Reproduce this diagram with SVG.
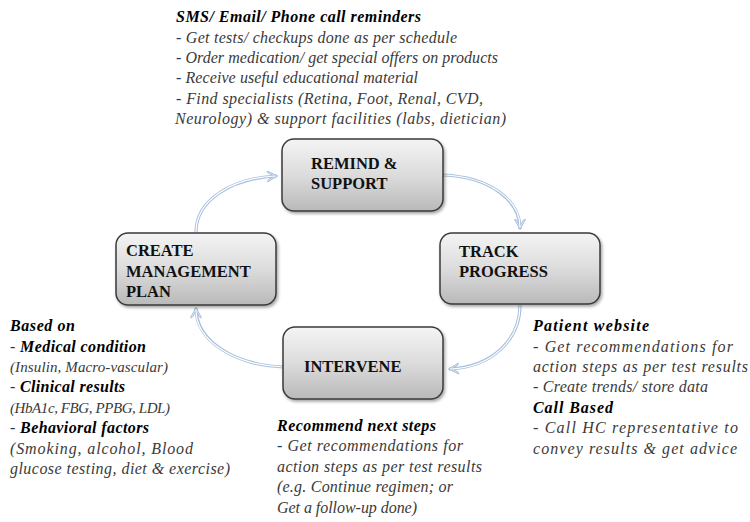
<svg xmlns="http://www.w3.org/2000/svg" width="750" height="522" viewBox="0 0 750 522">
<defs>
<linearGradient id="boxGrad" x1="0" y1="0" x2="0" y2="1">
<stop offset="0" stop-color="#f4f4f4"/>
<stop offset="0.5" stop-color="#dcdcdc"/>
<stop offset="1" stop-color="#b9b9b9"/>
</linearGradient>
<filter id="shadow" x="-10%" y="-10%" width="125%" height="130%">
<feDropShadow dx="1.5" dy="2" stdDeviation="1.5" flood-color="#000" flood-opacity="0.35"/>
</filter>
<marker id="arrow" viewBox="0 0 12 12" refX="10" refY="6" markerWidth="13" markerHeight="13" markerUnits="userSpaceOnUse" orient="auto">
<path d="M1,1 L10.5,6 L1,11 L2,9 L8,6 L2,3 Z" fill="#ffffff" stroke="#9fb9d8" stroke-width="0.9" stroke-linejoin="round"/>
</marker>
<style>
.box{fill:url(#boxGrad);stroke:#3a3a3a;stroke-width:1.5;filter:url(#shadow)}
.lbl{font-weight:bold;font-size:16.5px;fill:#111}
.t{font-style:italic;font-size:16px;fill:#3a3a3a}
.s{font-size:15px}
.h{font-weight:bold;fill:#000}
.d{fill:#1f3a64;font-style:normal}
.conOut{fill:none;stroke:#a9c1de;stroke-width:3.2}
.conIn{fill:none;stroke:#ffffff;stroke-width:1.2}
</style>
</defs>
<rect width="750" height="522" fill="#ffffff"/>

<g id="connectors">
<path class="conOut" d="M196,232 C196,200 232,178 277,176" marker-end="url(#arrow)"/>
<path class="conIn" d="M196,232 C196,200 232,178 275,176"/>
<path class="conOut" d="M443,175 C490,177 520,200 520,229" marker-end="url(#arrow)"/>
<path class="conIn" d="M443,175 C490,177 520,200 520,227"/>
<path class="conOut" d="M520,305 C520,340 492,367 449,369" marker-end="url(#arrow)"/>
<path class="conIn" d="M520,305 C520,340 492,367 451,369"/>
<path class="conOut" d="M283,367 C236,365 196,342 196,308" marker-end="url(#arrow)"/>
<path class="conIn" d="M283,367 C236,365 196,342 196,310"/>
</g>

<g font-family="Liberation Serif, DejaVu Serif, serif">
<g id="node-remind">
<rect class="box" x="282" y="139" width="161" height="72" rx="12"/>
<text class="lbl" x="311" y="169">REMIND &amp;</text>
<text class="lbl" x="311" y="189">SUPPORT</text>
</g>

<g id="node-create">
<rect class="box" x="116" y="233" width="160" height="72" rx="12"/>
<text class="lbl" x="126" y="256">CREATE</text>
<text class="lbl" x="126" y="277">MANAGEMENT</text>
<text class="lbl" x="126" y="297">PLAN</text>
</g>

<g id="node-track">
<rect class="box" x="440" y="233" width="160" height="71" rx="12"/>
<text class="lbl" x="459" y="257">TRACK</text>
<text class="lbl" x="459" y="277">PROGRESS</text>
</g>

<g id="node-intervene">
<rect class="box" x="283" y="327" width="160" height="72" rx="12"/>
<text class="lbl" x="304" y="372">INTERVENE</text>
</g>

<g id="text-top">
<text class="t h" x="176" y="22" textLength="245">SMS/ Email/ Phone call reminders</text>
<text class="t" x="176" y="43" textLength="281"><tspan class="d">-</tspan> Get tests/ checkups done as per schedule</text>
<text class="t" x="176" y="63" textLength="322"><tspan class="d">-</tspan> Order medication/ get special offers on products</text>
<text class="t" x="176" y="83" textLength="242"><tspan class="d">-</tspan> Receive useful educational material</text>
<text class="t" x="176" y="104" textLength="307"><tspan class="d">-</tspan> Find specialists (Retina, Foot, Renal, CVD,</text>
<text class="t" x="175" y="124" textLength="331">Neurology) &amp; support facilities (labs, dietician)</text>
</g>

<g id="text-left">
<text class="t h" x="10" y="331" textLength="65">Based on</text>
<text class="t" x="10" y="352" textLength="136"><tspan class="d">-</tspan> <tspan class="h">Medical condition</tspan></text>
<text class="t s" x="10" y="372" textLength="158">(Insulin, Macro-vascular)</text>
<text class="t" x="10" y="392" textLength="115"><tspan class="d">-</tspan> <tspan class="h">Clinical results</tspan></text>
<text class="t s" x="10" y="413" textLength="160">(HbA1c, FBG, PPBG, LDL)</text>
<text class="t" x="10" y="433" textLength="139"><tspan class="d">-</tspan> <tspan class="h">Behavioral factors</tspan></text>
<text class="t" x="10" y="454" textLength="183">(Smoking, alcohol, Blood</text>
<text class="t" x="10" y="474" textLength="220">glucose testing, diet &amp; exercise)</text>
</g>

<g id="text-right">
<text class="t h" x="533" y="331" textLength="116">Patient website</text>
<text class="t" x="533" y="352" textLength="200"><tspan class="d">-</tspan> Get recommendations for</text>
<text class="t" x="533" y="372" textLength="215">action steps as per test results</text>
<text class="t" x="533" y="392" textLength="175"><tspan class="d">-</tspan> Create trends/ store data</text>
<text class="t h" x="533" y="413" textLength="80">Call Based</text>
<text class="t" x="533" y="433" textLength="205">- Call HC representative to</text>
<text class="t" x="533" y="454" textLength="204">convey results &amp; get advice</text>
</g>

<g id="text-bottom">
<text class="t h" x="277" y="431" textLength="159">Recommend next steps</text>
<text class="t" x="277" y="451" textLength="186"><tspan class="d">-</tspan> Get recommendations for</text>
<text class="t" x="277" y="472" textLength="205">action steps as per test results</text>
<text class="t" x="277" y="492" textLength="176">(e.g. Continue regimen; or</text>
<text class="t" x="277" y="513" textLength="140">Get a follow-up done)</text>
</g>
</g>
</svg>
